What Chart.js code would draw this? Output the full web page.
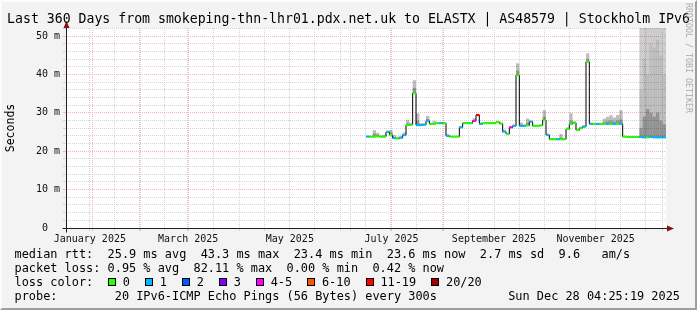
<!DOCTYPE html>
<html>
<head>
<meta charset="utf-8">
<script src="https://cdn.jsdelivr.net/npm/chart.js@4.4.1/dist/chart.umd.min.js"></script>
<style>
  html, body { margin: 0; padding: 0; }
  body { width: 697px; height: 310px; overflow: hidden; background: #f3f3f3; font-family: "DejaVu Sans Mono", monospace; color: #000; position: relative; }
  #frame { position: absolute; left: 0; top: 0; width: 697px; height: 310px; box-sizing: border-box;
    border-top: 2px solid #fcfcfc; border-left: 2px solid #fcfcfc; border-right: 2px solid #9e9e9e; border-bottom: 2px solid #9e9e9e; pointer-events: none; }
  #wrap { position: absolute; left: 0; top: 0; width: 697px; height: 310px; }
  .t { position: absolute; white-space: pre; line-height: 14px; font-size: 11.9px; }
  #title { position: absolute; left: 0; top: 10px; width: 697px; text-align: center; font-size: 13.2px; line-height: 17px; white-space: pre; }
  #ylab { position: absolute; left: -30px; top: 121px; width: 80px; text-align: center; font-size: 11.5px; line-height: 14px; transform: rotate(-90deg); }
  #credit { position: absolute; left: 629px; top: 53px; width: 120px; text-align: center; font-size: 8.3px; line-height: 10px; color: #ababab; transform: rotate(90deg); white-space: pre; }
  #lossKey { position: absolute; left: 108.3px; top: 275.3px; height: 14px; display: flex; align-items: center; font-size: 11.9px; white-space: pre; }
  #lossKey .box { width: 8px; height: 8px; box-sizing: border-box; border: 1px solid #000; margin-right: 6.5px; }
  #lossKey .lbl { margin-right: 15.3px; }
</style>
</head>
<body>
<div id="wrap"><canvas id="chart" width="697" height="310"></canvas></div>
<div id="title">Last 360 Days from smokeping-thn-lhr01.pdx.net.uk to ELASTX | AS48579 | Stockholm IPv6</div>
<div id="ylab">Seconds</div>
<div id="credit">RRDTOOL / TOBI OETIKER</div>
<div class="t" style="left:14.5px; top:247.3px">median rtt:  25.9 ms avg  43.3 ms max  23.4 ms min  23.6 ms now  2.7 ms sd  9.6   am/s</div>
<div class="t" style="left:14.5px; top:261.3px">packet loss: 0.95 % avg  82.11 % max  0.00 % min  0.42 % now</div>
<div class="t" style="left:14.5px; top:275.3px">loss color:</div>
<div id="lossKey"></div>
<div class="t" style="left:14.5px; top:289.3px">probe:        20 IPv6-ICMP Echo Pings (56 Bytes) every 300s</div>
<div class="t" style="right:17px; top:289.3px">Sun Dec 28 04:25:19 2025</div>
<div id="frame"></div>
<script>
// x positions are days since the start of the 360 day window (Jan 2 2025 04:25)
var days = [181,183,185,187,189,191,193,195,197,199,
            201,203,205,207,209,211,213,215,217,219,
            221,223,225,227,229,231,233,235,237,239,
            241,243,245,247,249,251,253,255,257,259,
            261,263,265,267,269,271,273,275,277,279,
            281,283,285,287,289,291,293,295,297,299,
            301,303,305,307,309,311,313,315,317,319,
            321,323,325,327,329,331,333,335,337,339,
            341,343,345,347,349,351,353,355,357,359];

// median rtt (ms)
var median = [23.8,23.8,23.8,23.9,23.8,23.8,25.0,24.3,23.4,23.3,
              23.5,24.2,26.8,26.9,35.1,26.8,26.8,26.9,27.9,27.1,
              27.1,27.3,27.3,27.3,24.0,23.8,23.8,23.8,26.2,27.3,
              27.3,27.3,27.9,29.4,27.1,27.3,27.3,27.3,27.3,27.6,
              27.2,25.1,24.5,26.2,26.6,39.8,26.6,26.6,26.7,27.7,
              26.6,26.6,26.7,28.1,24.2,23.1,23.1,23.1,23.1,23.1,
              25.8,27.1,27.4,25.5,26.0,26.4,43.3,27.1,27.1,27.1,
              27.1,27.1,27.1,27.1,27.1,27.1,27.1,23.8,23.7,23.7,
              23.7,23.7,23.7,23.6,23.6,23.7,23.6,23.6,23.6,23.6];

// lost pings out of 20
var loss = [1,0,0,0,0,0,1,0,1,0,
            1,1,0,0,0,1,1,1,1,0,
            0,0,1,0,1,0,0,0,1,0,
            0,0,4,16,1,0,0,0,0,0,
            0,1,0,4,1,0,1,1,0,1,
            0,0,0,0,1,0,0,1,0,0,
            0,0,0,0,0,1,0,1,0,1,
            0,0,1,0,1,0,1,0,0,0,
            0,0,1,1,0,1,1,1,1,1];

// smoke: top of outer, middle and inner bands (ms)
var smokeHi = [24.1,24.0,25.5,24.8,24.1,24.3,25.4,25.5,24.2,23.8,
               24.0,24.9,28.1,27.4,38.5,29.9,27.3,27.3,29.2,27.4,
               27.9,27.5,27.6,27.5,24.5,24.0,24.0,24.0,26.6,27.6,
               27.5,27.5,28.6,29.8,27.5,27.5,27.5,27.5,27.5,27.9,
               27.5,25.6,24.8,26.6,27.0,42.9,27.5,27.0,28.5,28.0,
               26.9,26.9,27.0,30.7,24.6,23.4,23.4,23.4,24.5,23.4,
               26.2,29.9,27.8,25.9,26.4,26.8,45.5,27.5,27.4,27.4,
               27.4,28.5,29.0,29.4,28.8,29.4,30.7,24.0,23.9,23.9,
               23.9,23.9,60,60,60,60,60,60,60,60];
var smokeMid = [24.1,24.0,25.5,24.8,24.1,24.3,25.4,25.5,24.2,23.8,
                24.0,24.9,28.1,27.4,38.5,29.9,27.3,27.3,29.2,27.4,
                27.9,27.5,27.6,27.5,24.5,24.0,24.0,24.0,26.6,27.6,
                27.5,27.5,28.6,29.8,27.5,27.5,27.5,27.5,27.5,27.9,
                27.5,25.6,24.8,26.6,27.0,42.9,27.5,27.0,28.5,28.0,
                26.9,26.9,27.0,30.7,24.6,23.4,23.4,23.4,24.5,23.4,
                26.2,29.9,27.8,25.9,26.4,26.8,45.5,27.5,27.4,27.4,
                27.4,28.5,29.0,29.4,28.8,29.4,30.7,24.0,23.9,23.9,
                23.9,23.9,36,44,40,48,47,49,45,40];
var smokeIn = [23.9,23.9,24.6,24.3,23.9,24.0,25.2,24.8,23.7,23.5,
               23.7,24.5,27.3,27.1,36.5,28.0,27.0,27.1,28.4,27.2,
               27.4,27.4,27.4,27.4,24.2,23.9,23.9,23.9,26.4,27.4,
               27.4,27.4,28.2,29.6,27.3,27.4,27.4,27.4,27.4,27.7,
               27.3,25.3,24.6,26.4,26.8,41.0,27.0,26.8,27.4,27.8,
               26.7,26.7,26.8,29.0,24.4,23.2,23.2,23.2,23.6,23.2,
               25.9,28.0,27.5,25.6,26.1,26.5,44.0,27.2,27.2,27.2,
               27.2,27.6,27.8,28.0,27.7,28.0,28.3,23.9,23.8,23.8,
               23.8,23.8,26,29,31,30,29,30,28,27];

// axis ticks
var monthStarts = [29.82,57.82,88.82,118.82,149.82,179.82,210.82,241.82,271.82,302.82,332.82];
var minorDays = [8.8,18.8,39.8,49.8,67.8,77.8,98.8,108.8,128.8,138.8,159.8,169.8,
                 189.8,199.8,220.8,230.8,251.8,261.8,281.8,291.8,312.8,322.8,342.8,352.8];
var labelDays = [14.3,73.3,134.3,195.3,256.8,317.8];
var monthLabels = ['January 2025','March 2025','May 2025','July 2025','September 2025','November 2025'];
var yGrid = [0,2,4,6,8,10,12,14,16,18,20,22,24,26,28,30,32,34,36,38,40,42,44,46,48,50,52];

// loss legend
var lossLabels = ['0','1','2','3','4-5','6-10','11-19','20/20'];
var lossColors = ['#26ff00','#00b8ff','#0059ff','#7e00ff','#ff00ff','#ff5500','#ff0000','#a10000'];

function lossColor(n) {
  if (n <= 0) return lossColors[0];
  if (n <= 3) return lossColors[n];
  if (n <= 5) return lossColors[4];
  if (n <= 10) return lossColors[5];
  if (n <= 19) return lossColors[6];
  return lossColors[7];
}

var key = document.getElementById('lossKey');
lossLabels.forEach(function (l, i) {
  var b = document.createElement('span');
  b.className = 'box';
  b.style.background = lossColors[i];
  var s = document.createElement('span');
  s.className = 'lbl';
  s.textContent = l;
  key.appendChild(b);
  key.appendChild(s);
});

function pts(arr) { return days.map(function (d, i) { return {x: d, y: arr[i]}; }); }
function band(arr) { return days.map(function (d, i) { return {x: d, y: [median[i], arr[i]]}; }); }

var gridRed = '#f7b6b6';
var gridGray = '#d4d4d4';
var mono = 'DejaVu Sans Mono';

var plotFrame = {
  id: 'plotFrame',
  beforeDraw: function (chart) {
    var a = chart.chartArea, ctx = chart.ctx;
    ctx.save();
    ctx.fillStyle = '#ffffff';
    ctx.fillRect(a.left, a.top, a.right - a.left, a.bottom - a.top);
    ctx.restore();
  },
  afterDraw: function (chart) {
    var a = chart.chartArea, ctx = chart.ctx;
    var x0 = a.left + 0.5, y0 = a.bottom + 0.5;
    ctx.save();
    ctx.strokeStyle = '#202020';
    ctx.lineWidth = 1;
    ctx.beginPath();
    ctx.moveTo(x0, y0 + 4);
    ctx.lineTo(x0, a.top - 3);
    ctx.moveTo(x0 - 4, y0);
    ctx.lineTo(a.right + 3, y0);
    ctx.stroke();
    ctx.fillStyle = '#8a1010';
    ctx.beginPath();
    ctx.moveTo(x0, a.top - 7);
    ctx.lineTo(x0 - 3, a.top);
    ctx.lineTo(x0 + 3, a.top);
    ctx.closePath();
    ctx.fill();
    ctx.beginPath();
    ctx.moveTo(a.right + 8, y0);
    ctx.lineTo(a.right + 1, y0 - 3);
    ctx.lineTo(a.right + 1, y0 + 3);
    ctx.closePath();
    ctx.fill();
    ctx.restore();
  }
};

function smoke(label, arr, colour, order) {
  return {
    type: 'bar',
    label: label,
    data: band(arr),
    backgroundColor: colour,
    borderWidth: 0,
    inflateAmount: 0,
    grouped: false,
    barPercentage: 1,
    categoryPercentage: 1,
    order: order
  };
}

new Chart(document.getElementById('chart').getContext('2d'), {
  type: 'line',
  data: {
    datasets: [
      {
        label: 'loss',
        data: pts(median),
        showLine: false,
        pointStyle: 'line',
        pointRadius: 1.7,
        pointHoverRadius: 1.7,
        pointBorderWidth: 2,
        pointBorderColor: loss.map(lossColor),
        order: 0
      },
      {
        label: 'median',
        data: pts(median),
        stepped: 'middle',
        borderColor: '#000000',
        borderWidth: 1,
        pointRadius: 0,
        fill: false,
        order: 1
      },
      smoke('smoke inner', smokeIn, 'rgba(0,0,0,0.22)', 2),
      smoke('smoke mid', smokeMid, 'rgba(0,0,0,0.07)', 3),
      smoke('smoke outer', smokeHi, 'rgba(0,0,0,0.2)', 4)
    ]
  },
  options: {
    responsive: false,
    animation: false,
    events: [],
    layout: { autoPadding: false, padding: { left: 0, top: 28, right: 31, bottom: 62 } },
    plugins: { legend: { display: false }, tooltip: { enabled: false } },
    scales: {
      x: {
        type: 'linear',
        position: 'bottom',
        min: 0,
        max: 360,
        offset: false,
        afterFit: function (s) { s.height = 0; },
        afterBuildTicks: function (s) {
          var t = monthStarts.map(function (v) { return {value: v, major: true}; });
          minorDays.forEach(function (v) { t.push({value: v, major: false}); });
          s.ticks = t;
        },
        grid: {
          color: function (c) { return c.tick && c.tick.major ? gridRed : gridGray; },
          lineWidth: 1,
          tickLength: 3
        },
        border: { display: false, dash: [1, 1] },
        ticks: { display: false, autoSkip: false }
      },
      xLab: {
        type: 'linear',
        position: 'bottom',
        min: 0,
        max: 360,
        offset: false,
        afterFit: function (s) { s.height = 20; },
        afterBuildTicks: function (s) {
          s.ticks = labelDays.map(function (v) { return {value: v}; });
        },
        grid: { display: false },
        border: { display: false },
        ticks: {
          autoSkip: false,
          maxRotation: 0,
          padding: -3,
          color: '#111',
          font: { family: mono, size: 10 },
          callback: function (v, i) { return monthLabels[i]; }
        }
      },
      y: {
        type: 'linear',
        min: 0,
        max: 52.1,
        afterFit: function (s) { s.width = 66; },
        afterBuildTicks: function (s) {
          s.ticks = yGrid.map(function (v) { return {value: v}; });
        },
        grid: {
          color: function (c) { return c.tick && c.tick.value % 10 === 0 ? gridRed : gridGray; },
          lineWidth: 1,
          tickLength: 3
        },
        border: { display: false, dash: [1, 1] },
        ticks: {
          autoSkip: false,
          padding: 3,
          color: '#111',
          font: { family: mono, size: 10 },
          callback: function (v) {
            if (v % 10 !== 0) return '';
            return v === 0 ? '0  ' : v + ' m';
          }
        }
      }
    }
  },
  plugins: [plotFrame]
});
</script>
</body>
</html>
